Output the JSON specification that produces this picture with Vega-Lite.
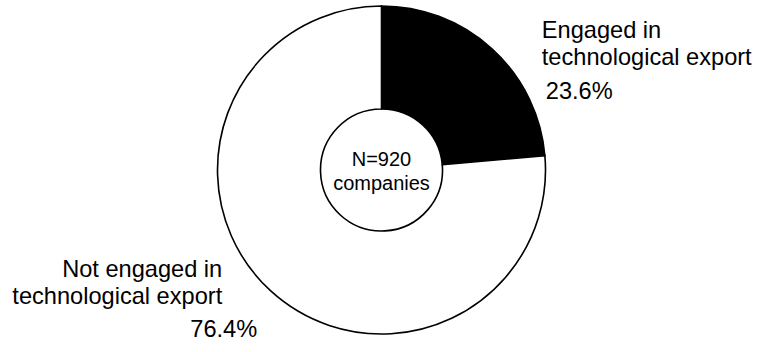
{
  "$schema": "https://vega.github.io/schema/vega-lite/v6.json",
  "width": 771,
  "height": 352,
  "autosize": {"type": "fit", "contains": "padding"},
  "padding": {"left": 0, "right": 8, "top": 9, "bottom": 0},
  "background": "white",
  "config": {"view": {"stroke": null}, "text": {"font": "Liberation Sans", "color": "#000000"}},
  "datasets": {
    "shares": [
      {"category": "Engaged in technological export", "label": "Engaged in\ntechnological export", "pct": "23.6%", "value": 23.6},
      {"category": "Not engaged in technological export", "label": "Not engaged in\ntechnological export", "pct": "76.4%", "value": 76.4}
    ],
    "note": [{"note": "N=920\ncompanies"}]
  },
  "layer": [
    {
      "data": {"name": "shares"},
      "mark": {"type": "arc", "outerRadius": 164, "innerRadius": 61, "stroke": "#000000", "strokeWidth": 1.6},
      "encoding": {
        "theta": {"field": "value", "type": "quantitative", "stack": true},
        "order": {"field": "category", "type": "nominal", "sort": "ascending"},
        "color": {"field": "category", "type": "nominal", "scale": {"range": ["#000000", "#ffffff"]}, "legend": null}
      }
    },
    {
      "data": {"name": "shares"},
      "mark": {"type": "text", "radius": 190, "dx": 32, "dy": 8, "align": "left", "baseline": "alphabetic", "fontSize": 23.6, "lineHeight": 27, "lineBreak": "\n"},
      "encoding": {
        "theta": {"field": "value", "type": "quantitative", "stack": true},
        "order": {"field": "category", "type": "nominal", "sort": "ascending"},
        "text": {"condition": {"test": "datum.category === 'Engaged in technological export'", "field": "label", "type": "nominal"}, "value": ""}
      }
    },
    {
      "data": {"name": "shares"},
      "mark": {"type": "text", "radius": 190, "dx": 36, "dy": 69, "align": "left", "baseline": "alphabetic", "fontSize": 23.6},
      "encoding": {
        "theta": {"field": "value", "type": "quantitative", "stack": true},
        "order": {"field": "category", "type": "nominal", "sort": "ascending"},
        "text": {"condition": {"test": "datum.category === 'Engaged in technological export'", "field": "pct", "type": "nominal"}, "value": ""}
      }
    },
    {
      "data": {"name": "shares"},
      "mark": {"type": "text", "radius": 190, "dx": -31, "dy": -33, "align": "right", "baseline": "alphabetic", "fontSize": 23.6, "lineHeight": 27, "lineBreak": "\n"},
      "encoding": {
        "theta": {"field": "value", "type": "quantitative", "stack": true},
        "order": {"field": "category", "type": "nominal", "sort": "ascending"},
        "text": {"condition": {"test": "datum.category === 'Not engaged in technological export'", "field": "label", "type": "nominal"}, "value": ""}
      }
    },
    {
      "data": {"name": "shares"},
      "mark": {"type": "text", "radius": 190, "dx": 4, "dy": 27, "align": "right", "baseline": "alphabetic", "fontSize": 23.6},
      "encoding": {
        "theta": {"field": "value", "type": "quantitative", "stack": true},
        "order": {"field": "category", "type": "nominal", "sort": "ascending"},
        "text": {"condition": {"test": "datum.category === 'Not engaged in technological export'", "field": "pct", "type": "nominal"}, "value": ""}
      }
    },
    {
      "data": {"name": "note"},
      "mark": {"type": "text", "align": "center", "baseline": "alphabetic", "dy": -4, "fontSize": 20, "lineHeight": 24, "lineBreak": "\n"},
      "encoding": {
        "text": {"field": "note", "type": "nominal"}
      }
    }
  ]
}
